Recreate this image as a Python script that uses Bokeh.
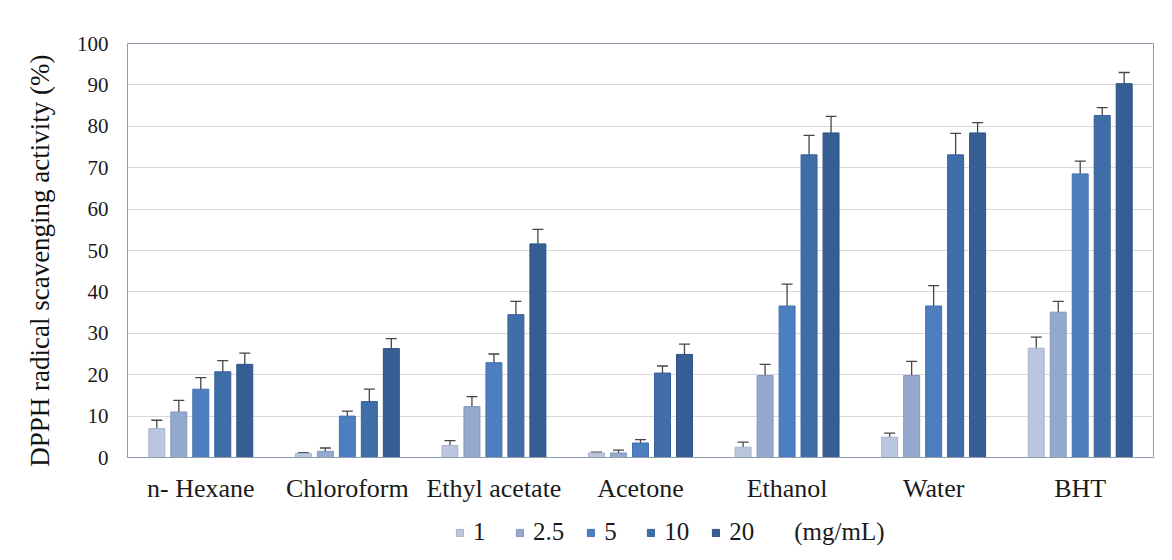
from bokeh.plotting import figure
from bokeh.layouts import column
from bokeh.models import (FactorRange, ColumnDataSource, Whisker, TeeHead, Legend,
                          LegendItem, FixedTicker)
from bokeh.transform import dodge
from bokeh.embed import file_html
from bokeh.resources import INLINE

categories = ["n- Hexane", "Chloroform", "Ethyl acetate", "Acetone", "Ethanol", "Water", "BHT"]
concentrations = ["1", "2.5", "5", "10", "20"]
unit_label = "(mg/mL)"

# mean values per concentration (one list per concentration, ordered as categories)
v1 = [7.0, 1.0, 2.9, 1.1, 2.5, 4.9, 26.4]
v2_5 = [11.0, 1.5, 12.3, 1.1, 19.8, 19.8, 35.1]
v5 = [16.5, 10.0, 22.9, 3.5, 36.6, 36.6, 68.5]
v10 = [20.7, 13.5, 34.5, 20.4, 73.1, 73.1, 82.6]
v20 = [22.5, 26.3, 51.6, 24.9, 78.4, 78.4, 90.3]

# error (± SD) per concentration
e1 = [2.0, 0.2, 1.2, 0.2, 1.2, 1.0, 2.7]
e2_5 = [2.8, 0.8, 2.4, 0.7, 2.7, 3.4, 2.6]
e5 = [2.8, 1.2, 2.1, 0.8, 5.3, 4.9, 3.1]
e10 = [2.7, 3.0, 3.2, 1.7, 4.7, 5.2, 1.9]
e20 = [2.7, 2.4, 3.5, 2.5, 4.0, 2.5, 2.7]

series_values = [v1, v2_5, v5, v10, v20]
series_errors = [e1, e2_5, e5, e10, e20]

fills = ["#b9c6de", "#95a8cd", "#4d7ebf", "#3f6ea9", "#375e94"]
edges = ["#a6b4cf", "#8497bd", "#4472ad", "#376096", "#2e5282"]
offsets = [-0.3, -0.15, 0.0, 0.15, 0.3]

FONT = "Liberation Serif"
W = 1164
NAN = float("nan")

p = figure(x_range=FactorRange(*categories, range_padding=0.0), y_range=(0, 100),
           width=W, height=505, output_backend="svg", toolbar_location=None,
           min_border_left=127, min_border_right=11, min_border_top=43, min_border_bottom=20)
p.background_fill_color = "white"
p.border_fill_color = "white"
p.outline_line_color = "#8f9cae"
p.outline_line_width = 1

for i, (vals, errs) in enumerate(zip(series_values, series_errors)):
    src = ColumnDataSource(dict(cat=categories, val=vals,
                                lo=[v - e for v, e in zip(vals, errs)],
                                hi=[v + e for v, e in zip(vals, errs)]))
    p.vbar(x=dodge("cat", offsets[i], range=p.x_range), top="val", bottom=0, width=0.109,
           source=src, fill_color=fills[i], line_color=edges[i], line_width=1)
    w = Whisker(base=dodge("cat", offsets[i], range=p.x_range), lower="lo", upper="hi",
                source=src, line_color="#454545", line_width=1.3,
                upper_head=TeeHead(size=11, line_color="#454545", line_width=1.3),
                lower_head=TeeHead(size=11, line_color="#454545", line_width=1.3))
    p.add_layout(w)

# axes
p.yaxis.ticker = FixedTicker(ticks=list(range(0, 101, 10)))
p.yaxis.axis_line_color = None
p.yaxis.major_tick_line_color = None
p.yaxis.major_tick_out = 0
p.yaxis.major_tick_in = 0
p.yaxis.minor_tick_line_color = None
p.yaxis.major_label_standoff = 19
p.yaxis.major_label_text_font = FONT
p.yaxis.major_label_text_font_size = "21px"
p.yaxis.major_label_text_color = "#1a1a1a"
p.yaxis.axis_label = "DPPH radical  scavenging  activity  (%)"
p.yaxis.axis_label_text_font = FONT
p.yaxis.axis_label_text_font_size = "27px"
p.yaxis.axis_label_text_font_style = "normal"
p.yaxis.axis_label_text_color = "#111111"
p.yaxis.axis_label_standoff = 19

p.xaxis.axis_line_color = "#8f9cae"
p.xaxis.major_tick_line_color = None
p.xaxis.major_tick_out = 0
p.xaxis.major_tick_in = 0
p.xaxis.minor_tick_line_color = None
p.xaxis.major_label_standoff = 16
p.xaxis.major_label_text_font = FONT
p.xaxis.major_label_text_font_size = "26px"
p.xaxis.major_label_text_color = "#1a1a1a"

p.xgrid.grid_line_color = None
p.ygrid.grid_line_color = "#d9d9d9"
p.ygrid.grid_line_width = 1

# legend strip below the chart (its frame is aligned with the chart's frame)
lg = figure(width=W, height=55, output_backend="svg", toolbar_location=None,
            x_range=(0, 1), y_range=(0, 1),
            min_border_left=127, min_border_right=11, min_border_top=0, min_border_bottom=0)
lg.axis.visible = False
lg.grid.visible = False
lg.outline_line_color = None
lg.background_fill_color = "white"
lg.border_fill_color = "white"

items = []
for i, lab in enumerate(concentrations):
    r = lg.vbar(x=[NAN], top=[NAN], width=1, fill_color=fills[i], line_color=edges[i])
    items.append(LegendItem(label=lab, renderers=[r]))
blank = lg.scatter(x=[NAN], y=[NAN], size=1, fill_alpha=0, line_alpha=0)
items.append(LegendItem(label=unit_label, renderers=[blank]))

legend = Legend(items=items, location=(328, 14), orientation="horizontal",
                glyph_width=9, glyph_height=9, label_standoff=9,
                padding=0, margin=0, spacing=22,
                border_line_color=None, background_fill_alpha=0,
                label_text_font=FONT, label_text_font_size="25px",
                label_text_color="#1a1a1a", label_height=24)
lg.add_layout(legend, "center")

layout = column(p, lg, spacing=0)
open("out.html", "w").write(file_html(layout, INLINE))
